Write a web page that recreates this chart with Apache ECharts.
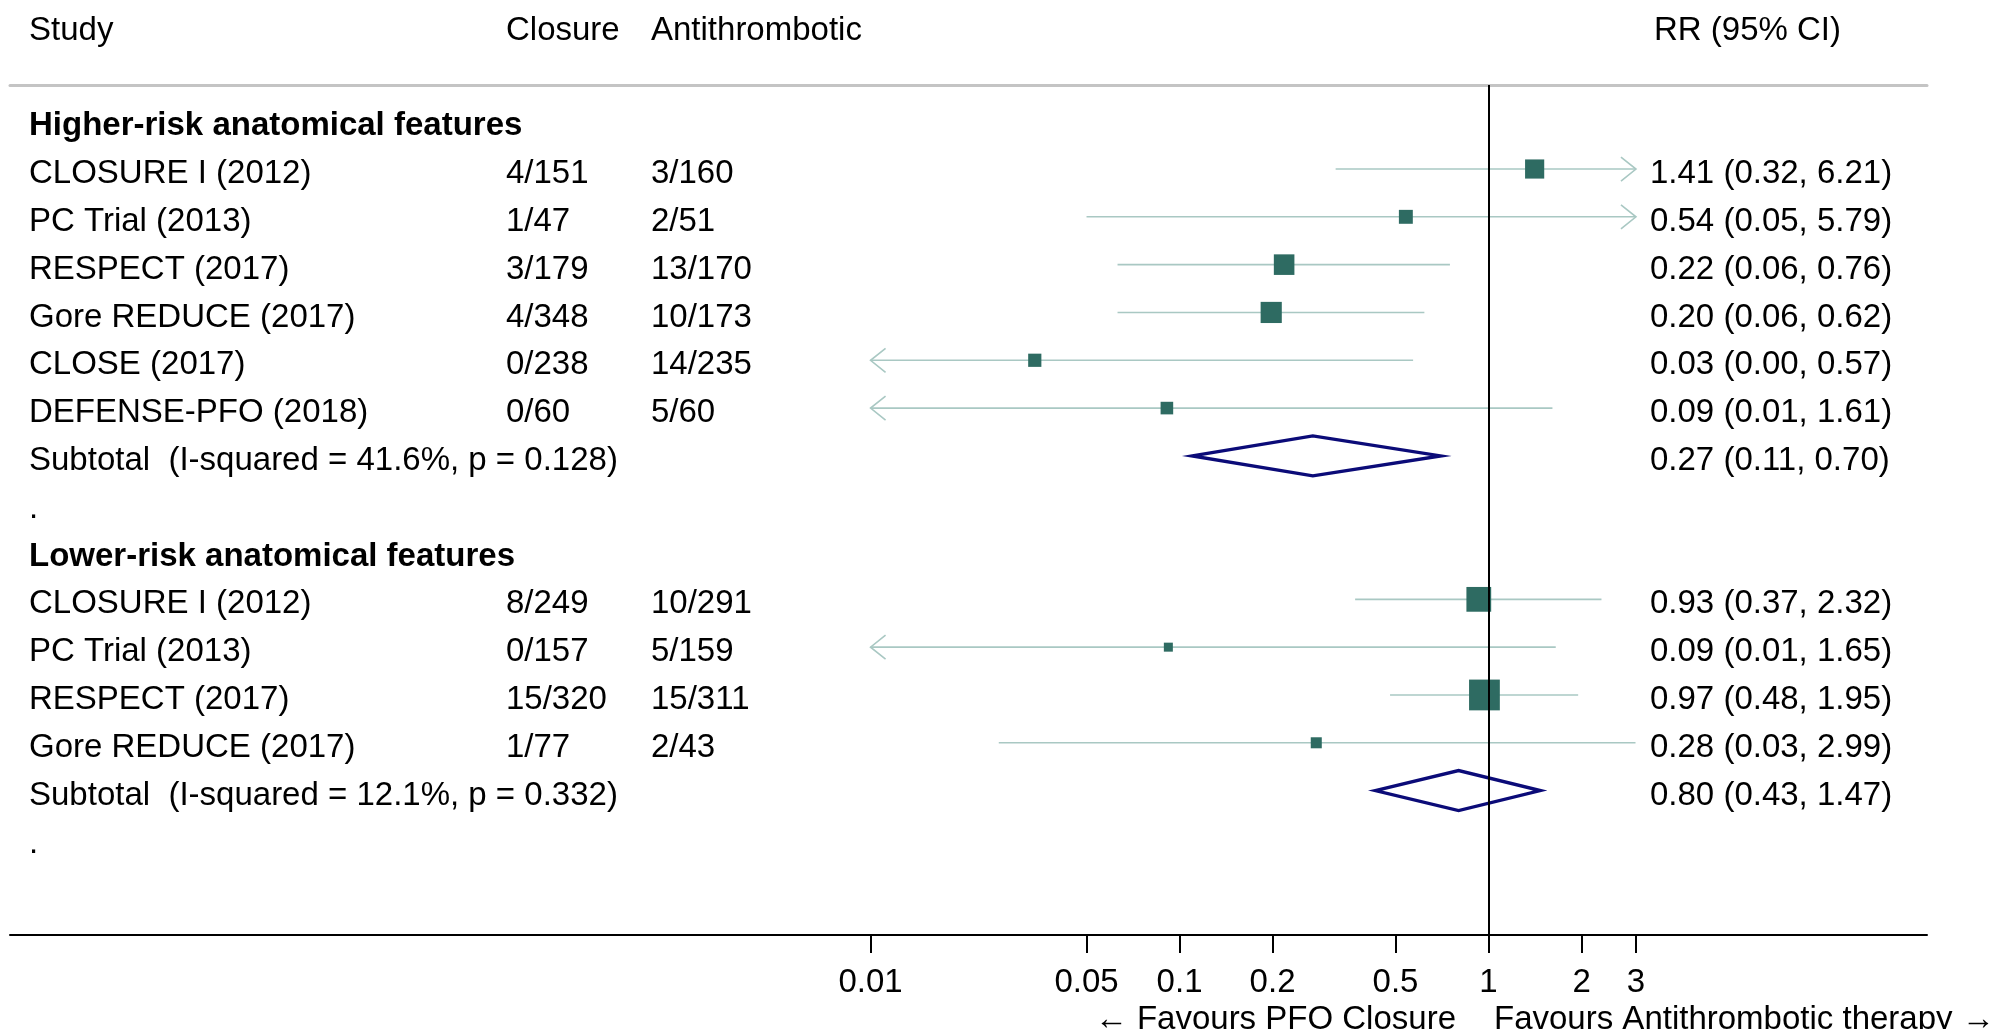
<!DOCTYPE html>
<html>
<head>
    <meta charset="utf-8">
    <title>Forest plot</title>
    <style>
        html, body { margin: 0; padding: 0; background: #fff; }
        #main { width: 2003px; height: 1029px; }
    </style>
</head>
<body>
<div id="main"></div>

<script src="https://cdn.jsdelivr.net/npm/echarts@6/dist/echarts.min.js"></script>
<script>
    // row texts (one entry per row, top to bottom)
    var rowLabels = [
        'Higher-risk anatomical features',
        'CLOSURE I (2012)',
        'PC Trial (2013)',
        'RESPECT (2017)',
        'Gore REDUCE (2017)',
        'CLOSE (2017)',
        'DEFENSE-PFO (2018)',
        'Subtotal  (I-squared = 41.6%, p = 0.128)',
        '.',
        'Lower-risk anatomical features',
        'CLOSURE I (2012)',
        'PC Trial (2013)',
        'RESPECT (2017)',
        'Gore REDUCE (2017)',
        'Subtotal  (I-squared = 12.1%, p = 0.332)',
        '.'
    ];
    var boldRows = [0, 9];
    var closureEvents = ['', '4/151', '1/47', '3/179', '4/348', '0/238', '0/60', '', '', '',
        '8/249', '0/157', '15/320', '1/77', '', ''];
    var antithromboticEvents = ['', '3/160', '2/51', '13/170', '10/173', '14/235', '5/60', '', '', '',
        '10/291', '5/159', '15/311', '2/43', '', ''];
    var rrLabels = ['', '1.41 (0.32, 6.21)', '0.54 (0.05, 5.79)', '0.22 (0.06, 0.76)', '0.20 (0.06, 0.62)',
        '0.03 (0.00, 0.57)', '0.09 (0.01, 1.61)', '0.27 (0.11, 0.70)', '', '',
        '0.93 (0.37, 2.32)', '0.09 (0.01, 1.65)', '0.97 (0.48, 1.95)', '0.28 (0.03, 2.99)',
        '0.80 (0.43, 1.47)', ''];

    // individual studies
    var studyRows = [1, 2, 3, 4, 5, 6, 10, 11, 12, 13];
    var studyRR = [1.41, 0.54, 0.218, 0.198, 0.034, 0.091, 0.93, 0.092, 0.97, 0.277];
    var studyLo = [0.32, 0.05, 0.063, 0.063, 0, 0.007, 0.37, 0.007, 0.48, 0.026];
    var studyHi = [6.21, 5.79, 0.75, 0.62, 0.57, 1.61, 2.32, 1.65, 1.95, 2.99];
    var studyWeight = [20.8, 11.0, 24.0, 25.4, 9.9, 9.0, 34.8, 4.6, 53.7, 6.9];

    // subtotals
    var subRows = [7, 14];
    var subRR = [0.27, 0.80];
    var subLo = [0.11, 0.43];
    var subHi = [0.70, 1.47];

    // x axis
    var tickValues = [0.01, 0.05, 0.1, 0.2, 0.5, 1, 2, 3];
    var plotMin = 0.01, plotMax = 3;

    var FONT = '"Liberation Sans", Arial, Helvetica, sans-serif';
    var FS = 33;
    var colX = [29, 506, 651, 1650];

    var lg = function (v) { return Math.log(v) / Math.LN10; };

    var ciData = studyRows.map(function (r, i) {
        return [
            r,
            lg(Math.max(studyLo[i], plotMin)),
            lg(Math.min(studyHi[i], plotMax)),
            studyLo[i] < plotMin ? 1 : 0,
            studyHi[i] > plotMax ? 1 : 0
        ];
    });
    var boxData = studyRows.map(function (r, i) {
        return [lg(studyRR[i]), r, studyWeight[i]];
    });
    var diamondData = subRows.map(function (r, i) {
        return [r, lg(subLo[i]), lg(subRR[i]), lg(subHi[i])];
    });
    var textData = rowLabels.map(function (t, i) { return [0, i]; });

    var myChart = echarts.init(document.getElementById('main'));

    myChart.setOption({
        animation: false,
        backgroundColor: '#fff',
        grid: { left: 10, right: 76, top: 85, bottom: 94 },
        xAxis: [{
            type: 'value',
            position: 'bottom',
            min: -4.785,
            max: 1.419,
            axisLine: { show: true, onZero: false, lineStyle: { color: '#000', width: 2 } },
            axisTick: {
                show: true, length: 18, lineStyle: { color: '#000', width: 2 },
                customValues: tickValues.map(lg)
            },
            axisLabel: {
                show: true, margin: 31, color: '#000', fontSize: FS, fontFamily: FONT,
                customValues: tickValues.map(lg),
                formatter: function (v) { return String(+Math.pow(10, v).toPrecision(6)); }
            },
            splitLine: { show: false }
        }, {
            type: 'value',
            position: 'top',
            min: -4.785,
            max: 1.419,
            axisLine: { show: true, onZero: false, lineStyle: { color: '#c4c4c4', width: 3 } },
            axisTick: { show: false },
            axisLabel: { show: false },
            splitLine: { show: false }
        }],
        yAxis: {
            type: 'value',
            inverse: true,
            min: -0.757,
            max: 17.02,
            show: false
        },
        graphic: [
            { type: 'text', left: colX[0], top: 14, style: { text: 'Study', fontSize: FS, fontFamily: FONT, fill: '#000' } },
            { type: 'text', left: colX[1], top: 14, style: { text: 'Closure', fontSize: FS, fontFamily: FONT, fill: '#000' } },
            { type: 'text', left: colX[2], top: 14, style: { text: 'Antithrombotic', fontSize: FS, fontFamily: FONT, fill: '#000' } },
            { type: 'text', left: 1654, top: 14, style: { text: 'RR (95% CI)', fontSize: FS, fontFamily: FONT, fill: '#000' } },
            { type: 'text', right: 2003 - 1456, top: 1003, style: { text: '\u2190 Favours PFO Closure', fontSize: FS, fontFamily: FONT, fill: '#000' } },
            { type: 'text', left: 1494, top: 1003, style: { text: 'Favours Antithrombotic therapy \u2192', fontSize: FS, fontFamily: FONT, fill: '#000' } }
        ],
        series: [
            {
                // confidence interval lines with arrows where clipped
                type: 'custom',
                data: ciData,
                z: 2,
                renderItem: function (params, api) {
                    var row = api.value(0);
                    var p1 = api.coord([api.value(1), row]);
                    var p2 = api.coord([api.value(2), row]);
                    var st = { stroke: '#a9c8c3', lineWidth: 1.6, fill: null };
                    var children = [{
                        type: 'line',
                        shape: { x1: p1[0], y1: p1[1], x2: p2[0], y2: p2[1] },
                        style: st
                    }];
                    if (api.value(3)) {
                        children.push({
                            type: 'polyline',
                            shape: { points: [[p1[0] + 15, p1[1] - 12], [p1[0], p1[1]], [p1[0] + 15, p1[1] + 12]] },
                            style: st
                        });
                    }
                    if (api.value(4)) {
                        children.push({
                            type: 'polyline',
                            shape: { points: [[p2[0] - 15, p2[1] - 12], [p2[0], p2[1]], [p2[0] - 15, p2[1] + 12]] },
                            style: st
                        });
                    }
                    return { type: 'group', children: children };
                }
            },
            {
                // study weight boxes
                type: 'scatter',
                data: boxData,
                z: 3,
                symbol: 'rect',
                symbolSize: function (d) { return 4.2 * Math.sqrt(d[2]); },
                itemStyle: { color: '#2e6b62', opacity: 1 },
                silent: true
            },
            {
                // pooled estimates
                type: 'custom',
                data: diamondData,
                z: 4,
                renderItem: function (params, api) {
                    var row = api.value(0);
                    var l = api.coord([api.value(1), row]);
                    var c = api.coord([api.value(2), row]);
                    var r = api.coord([api.value(3), row]);
                    return {
                        type: 'polygon',
                        shape: { points: [[l[0], l[1]], [c[0], c[1] - 20], [r[0], r[1]], [c[0], c[1] + 20]] },
                        style: { stroke: '#0b0b78', lineWidth: 3.4, fill: null }
                    };
                }
            },
            {
                // text columns
                type: 'custom',
                data: textData,
                z: 5,
                renderItem: function (params, api) {
                    var i = params.dataIndex;
                    var y = api.coord([0, api.value(1)])[1] + 5;
                    var bold = boldRows.indexOf(i) >= 0;
                    var cols = [rowLabels[i], closureEvents[i], antithromboticEvents[i], rrLabels[i]];
                    var children = [];
                    cols.forEach(function (t, k) {
                        if (!t) return;
                        children.push({
                            type: 'text',
                            style: {
                                text: t, x: colX[k], y: y,
                                fill: '#000', fontSize: FS, fontFamily: FONT,
                                fontWeight: bold && k === 0 ? 'bold' : 'normal',
                                align: 'left', verticalAlign: 'middle'
                            }
                        });
                    });
                    return { type: 'group', children: children };
                }
            },
            {
                // line of no effect
                type: 'scatter',
                data: [],
                z: 10,
                markLine: {
                    silent: true,
                    symbol: 'none',
                    label: { show: false },
                    lineStyle: { color: '#000', width: 2, type: 'solid' },
                    data: [{ xAxis: lg(1) }]
                }
            }
        ]
    });
</script>
</body>
</html>
